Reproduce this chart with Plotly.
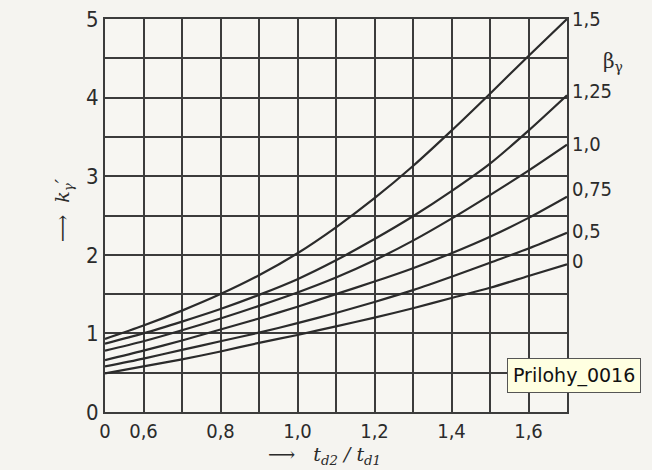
import plotly.graph_objects as go

# ---- data ----
x_ratio = [0.5, 0.6, 0.7, 0.8, 0.9, 1.0, 1.1, 1.2, 1.3, 1.4, 1.5, 1.6, 1.7]
beta_labels = ["1,5", "1,25", "1,0", "0,75", "0,5", "0"]
k_b150 = [0.93, 1.10, 1.29, 1.50, 1.74, 2.02, 2.35, 2.72, 3.13, 3.58, 4.05, 4.53, 5.00]
k_b125 = [0.87, 1.00, 1.15, 1.31, 1.49, 1.69, 1.93, 2.20, 2.49, 2.81, 3.16, 3.58, 4.03]
k_b100 = [0.78, 0.90, 1.04, 1.19, 1.35, 1.52, 1.71, 1.93, 2.18, 2.46, 2.76, 3.07, 3.40]
k_b075 = [0.66, 0.78, 0.91, 1.05, 1.19, 1.34, 1.50, 1.66, 1.83, 2.02, 2.23, 2.47, 2.74]
k_b050 = [0.58, 0.68, 0.79, 0.90, 1.01, 1.13, 1.26, 1.40, 1.55, 1.72, 1.90, 2.08, 2.28]
k_b000 = [0.49, 0.58, 0.67, 0.77, 0.88, 0.98, 1.09, 1.20, 1.32, 1.45, 1.58, 1.73, 1.88]
series = [k_b150, k_b125, k_b100, k_b075, k_b050, k_b000]
label_shift = [0, 4, 1, 8, 2, 3]

x_tickvals = x_ratio
x_ticktext = ["0", "0,6", "", "0,8", "", "1,0", "", "1,2", "", "1,4", "", "1,6", ""]
y_tickvals = [0, 0.5, 1, 1.5, 2, 2.5, 3, 3.5, 4, 4.5, 5]
y_ticktext = ["0", "", "1", "", "2", "", "3", "", "4", "", "5"]

INK = "#2b2b2b"
GRID = "#3c3c3c"
PAPER = "#f5f4f0"
FONT = "DejaVu Sans Condensed, Liberation Sans Narrow, DejaVu Sans, sans-serif"

fig = go.Figure()
for ys in series:
    fig.add_trace(go.Scatter(x=x_ratio, y=ys, mode="lines",
                             line=dict(color=INK, width=2.2, shape="spline", smoothing=0.8),
                             hoverinfo="skip", showlegend=False))

for lab, ys, sh in zip(beta_labels, series, label_shift):
    fig.add_annotation(x=x_ratio[-1], y=ys[-1], text=lab, showarrow=False,
                       xanchor="left", yanchor="middle", xshift=3, yshift=sh,
                       font=dict(family=FONT, size=20, color=INK))

fig.add_annotation(x=1.125, y=0.93, xref="paper", yref="paper", text="β<sub>γ</sub>",
                   showarrow=False, font=dict(family="DejaVu Serif, serif", size=20, color=INK))

fig.update_layout(
    width=652, height=470,
    margin=dict(l=105, r=85, t=19, b=58),
    paper_bgcolor=PAPER, plot_bgcolor="#f7f6f2",
    font=dict(family=FONT, color=INK),
    xaxis=dict(range=[0.5, 1.7], tickvals=x_tickvals, ticktext=x_ticktext,
               showgrid=True, gridcolor=GRID, gridwidth=1.6, zeroline=False,
               showline=True, linecolor=GRID, linewidth=2, mirror=True,
               ticks="", tickfont=dict(size=20, color=INK), automargin=False),
    yaxis=dict(range=[0, 5], tickvals=y_tickvals, ticktext=y_ticktext,
               showgrid=True, gridcolor=GRID, gridwidth=1.6, zeroline=False,
               showline=True, linecolor=GRID, linewidth=2, mirror=True,
               ticks="", tickfont=dict(size=22, color=INK), automargin=False),
)

# axis titles as annotations
fig.add_annotation(x=-0.12, y=0.514, xref="paper", yref="paper",
                   text="⟶  <i>k<sub>γ</sub>′</i>", textangle=-90, showarrow=False,
                   font=dict(family="DejaVu Serif, serif", size=19, color=INK))
fig.add_annotation(x=0.476, y=-0.11, xref="paper", yref="paper",
                   text="⟶   <i>t<sub>d2</sub> / t<sub>d1</sub></i>", showarrow=False,
                   yanchor="middle",
                   font=dict(family="DejaVu Serif, serif", size=19, color=INK))

# tooltip-like label seen on the picture
fig.add_annotation(x=0.87, y=0.094, xref="paper", yref="paper", xanchor="left",
                   yanchor="middle", text="Prilohy_0016", showarrow=False,
                   bgcolor="#ffffe1", bordercolor="#555555", borderwidth=1, borderpad=5,
                   font=dict(family="DejaVu Sans, sans-serif", size=19, color="#111111"))

fig.write_html(
    "out.html",
    config={"displayModeBar": False},
    post_script="document.body.style.margin='0';document.body.style.background='%s';" % PAPER,
)
